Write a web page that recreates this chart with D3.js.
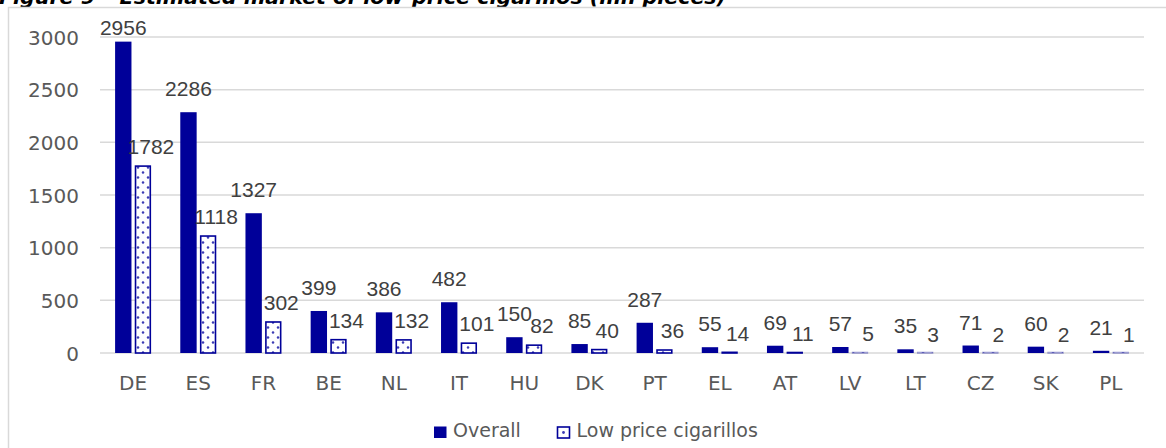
<!DOCTYPE html>
<html>
<head>
<meta charset="utf-8">
<script src="https://cdn.jsdelivr.net/npm/d3@7"></script>
<style>
  html, body { margin: 0; padding: 0; background: #ffffff; }
  svg { display: block; }
</style>
</head>
<body>
<div id="chart"></div>
<script>
// ---- data ----
const categories = ["DE","ES","FR","BE","NL","IT","HU","DK","PT","EL","AT","LV","LT","CZ","SK","PL"];
const overallValues = [2956, 2286, 1327, 399, 386, 482, 150, 85, 287, 55, 69, 57, 35, 71, 60, 21];
const lowPriceValues = [1782, 1118, 302, 134, 132, 101, 82, 40, 36, 14, 11, 5, 3, 2, 2, 1];
const seriesNames = ["Overall", "Low price cigarillos"];
const yTicks = [0, 500, 1000, 1500, 2000, 2500, 3000];
const titleText = "Figure 9 \u2013 Estimated market of low-price cigarillos (mn pieces)";

// ---- layout ----
const W = 1166, H = 448;
const blue = "#000099";
const gridColor = "#d9d9d9";
const axisFont = "'DejaVu Sans', Verdana, sans-serif";
const labelFont = "'Liberation Sans', Arial, sans-serif";

const svg = d3.select("#chart").append("svg")
  .attr("width", W).attr("height", H);

const defs = svg.append("defs");
const pat = defs.append("pattern")
  .attr("id", "dots")
  .attr("patternUnits", "userSpaceOnUse")
  .attr("width", 10).attr("height", 10);
pat.append("rect").attr("width", 10).attr("height", 10).attr("fill", "#ffffff");
pat.append("circle").attr("cx", 3).attr("cy", 2.5).attr("r", 1.25).attr("fill", "#3c3cb4");
pat.append("circle").attr("cx", 8).attr("cy", 7.5).attr("r", 1.25).attr("fill", "#3c3cb4");

// title (clipped at the top, as in the reference)
svg.append("text")
  .attr("x", -1).attr("y", 4)
  .attr("font-family", axisFont)
  .attr("font-weight", "bold")
  .attr("font-style", "italic")
  .attr("font-size", 19)
  .attr("fill", "#000000")
  .attr("textLength", 727)
  .attr("lengthAdjust", "spacingAndGlyphs")
  .text(titleText);

// chart frame (left and top borders visible)
svg.append("rect")
  .attr("x", 8.5).attr("y", 7.5)
  .attr("width", W + 10).attr("height", H + 10)
  .attr("fill", "none")
  .attr("stroke", gridColor)
  .attr("stroke-width", 1.5);

// scales
const x0 = d3.scaleBand().domain(categories).range([100.5, 1143.5]).padding(0);
const bw = x0.bandwidth();
const x1 = d3.scaleBand().domain(seriesNames)
  .range([bw / 2 - 18, bw / 2 + 18])
  .paddingInner(0.166).paddingOuter(0);
const y = d3.scaleLinear().domain([0, 3000]).range([353, 37]);

// gridlines
const grid = svg.append("g");
grid.selectAll("line").data(yTicks).join("line")
  .attr("x1", 100).attr("x2", 1144)
  .attr("y1", d => y(d)).attr("y2", d => y(d))
  .attr("stroke", gridColor).attr("stroke-width", 1.5);

// y axis labels
const yAxis = d3.axisLeft(y).tickValues(yTicks).tickSize(0).tickPadding(0).tickFormat(d3.format("d"));
const yg = svg.append("g").attr("transform", "translate(79,0)").call(yAxis);
yg.select(".domain").remove();
yg.selectAll("text")
  .attr("font-family", axisFont).attr("font-size", 20)
  .attr("fill", "#595959").attr("dy", "0.35em");

// x axis labels
const xAxis = d3.axisBottom(x0).tickSize(0).tickPadding(0);
const xg = svg.append("g").attr("transform", "translate(0,390)").call(xAxis);
xg.select(".domain").remove();
xg.selectAll("text")
  .attr("font-family", axisFont).attr("font-size", 20)
  .attr("fill", "#595959").attr("dy", 0).attr("y", 0);

// bars
const rows = categories.map((c, i) => ({ c, overall: overallValues[i], low: lowPriceValues[i] }));

const gBars = svg.append("g");
gBars.selectAll("rect.overall").data(rows).join("rect")
  .attr("class", "overall")
  .attr("x", d => x0(d.c) + x1("Overall"))
  .attr("width", x1.bandwidth())
  .attr("y", d => y(d.overall))
  .attr("height", d => y(0) - y(d.overall))
  .attr("fill", blue);

const sw = 1.6;
gBars.selectAll("rect.low").data(rows).join("rect")
  .attr("class", "low")
  .attr("x", d => x0(d.c) + x1("Low price cigarillos") + sw / 2)
  .attr("width", x1.bandwidth() - sw)
  .attr("y", d => Math.min(y(d.low) + sw / 2, y(0) - 0.5))
  .attr("height", d => Math.max(y(0) - y(d.low) - sw / 2, 0.5))
  .attr("fill", "url(#dots)")
  .attr("stroke", blue)
  .attr("stroke-opacity", d => d.low < 10 ? 0.35 : 1)
  .attr("stroke-width", sw);

// data labels
const gLab = svg.append("g")
  .attr("font-family", labelFont).attr("font-size", 21).attr("fill", "#404040");

gLab.selectAll("text.ov").data(rows).join("text")
  .attr("class", "ov")
  .attr("text-anchor", "middle")
  .attr("x", d => x0(d.c) + x1("Overall") + x1.bandwidth() / 2)
  .attr("y", d => Math.max(y(d.overall) - 16, 35))
  .text(d => d.overall);

gLab.selectAll("text.lo").data(rows).join("text")
  .attr("class", "lo")
  .attr("text-anchor", "middle")
  .attr("x", d => x0(d.c) + x1("Low price cigarillos") + x1.bandwidth() / 2 + 8)
  .attr("y", d => y(d.low) - 11)
  .text(d => d.low);

// legend
const lg = svg.append("g").attr("font-family", axisFont).attr("font-size", 19).attr("fill", "#595959");
lg.append("rect").attr("x", 434).attr("y", 426.5).attr("width", 12.5).attr("height", 11.5).attr("fill", blue);
lg.append("text").attr("x", 453).attr("y", 437).text(seriesNames[0]);
lg.append("rect").attr("x", 557.5).attr("y", 427).attr("width", 12).attr("height", 11)
  .attr("fill", "#ffffff").attr("stroke", blue).attr("stroke-width", 1.6);
lg.append("circle").attr("cx", 563.5).attr("cy", 432.5).attr("r", 1.4).attr("fill", "#3c3cb4");
lg.append("text").attr("x", 576.5).attr("y", 437).text(seriesNames[1]);
</script>
</body>
</html>
